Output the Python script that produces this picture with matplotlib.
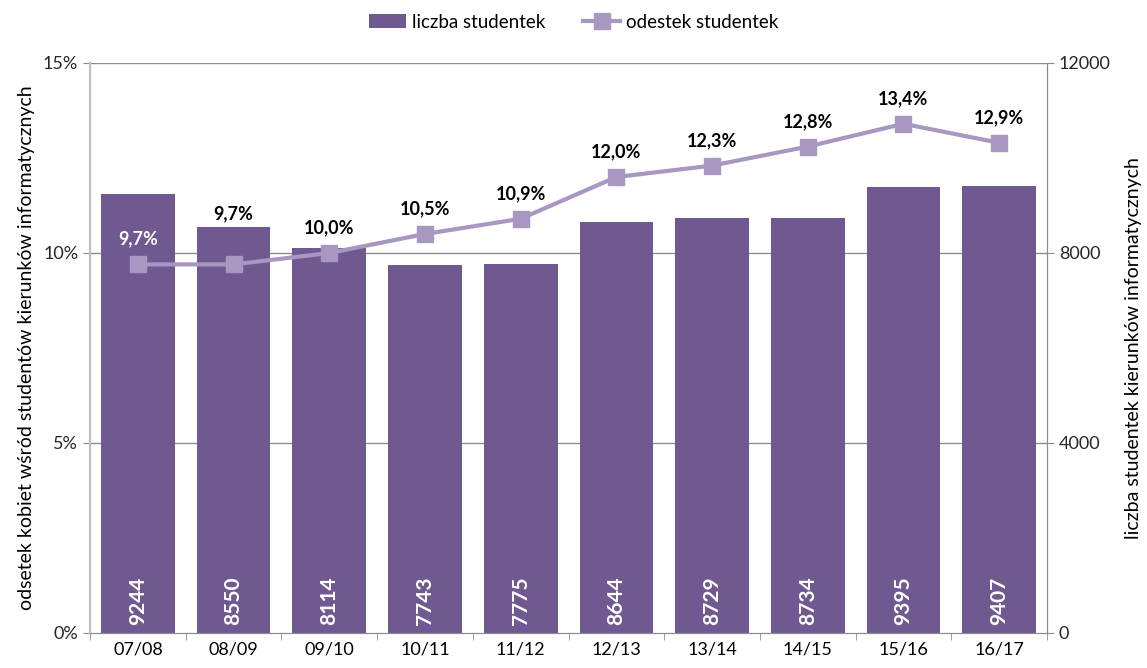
import matplotlib.pyplot as plt
import numpy as np

plt.rcParams['font.family'] = ['Lato', 'DejaVu Sans']

# dane
lata = ['07/08', '08/09', '09/10', '10/11', '11/12', '12/13', '13/14', '14/15', '15/16', '16/17']
liczba = [9244, 8550, 8114, 7743, 7775, 8644, 8729, 8734, 9395, 9407]
odsetek = [9.7, 9.7, 10.0, 10.5, 10.9, 12.0, 12.3, 12.8, 13.4, 12.9]

BAR_C = '#6F5990'
LINE_C = '#A797C1'
GRID_C = '#8C8C8C'

fig = plt.figure(figsize=(11.47, 6.68), dpi=100)
ax = fig.add_axes([0.0785, 0.0524, 0.8343, 0.8533])
ax2 = ax.twinx()

x = np.arange(len(lata))

# słupki na prawej osi
ax2.bar(x, liczba, width=0.77, color=BAR_C, zorder=2, label='liczba studentek')
ax2.set_ylim(0, 12000)
ax2.set_yticks([0, 4000, 8000, 12000])
for xi, v in zip(x, liczba):
    ax2.annotate(str(v), (xi, 0), xytext=(0, 6), textcoords='offset points',
                 ha='center', va='bottom', rotation=90, color='white',
                 fontsize=15, fontweight='bold')

# linia na lewej osi, nad słupkami
ax.set_zorder(ax2.get_zorder() + 1)
ax.patch.set_visible(False)
ax.plot(x, odsetek, color=LINE_C, lw=3, marker='s', ms=11, zorder=3,
        label='odestek studentek')
ax.set_ylim(0, 15)
ax.set_yticks([0, 5, 10, 15])
ax.set_yticklabels(['0%', '5%', '10%', '15%'])
ax.set_xlim(-0.5, len(lata) - 0.5)
for i, (xi, v) in enumerate(zip(x, odsetek)):
    col = 'white' if i == 0 else 'black'
    off = 30 if i == 1 else 12
    ax.annotate(f'{v:.1f}%'.replace('.', ','), (xi, v), xytext=(0, off),
                textcoords='offset points', ha='center', va='bottom',
                color=col, fontsize=13, fontweight='bold')

# siatka
for g in [5, 10, 15]:
    ax2.axhline(g * 800, color=GRID_C, lw=1, zorder=1)

ax.set_xticks(x)
ax.set_xticklabels(lata, fontsize=13)
ax.set_xticks(np.arange(-0.5, len(lata)), minor=True)
ax.tick_params(axis='x', which='major', length=0, pad=6)
ax.tick_params(axis='x', which='minor', length=5, color=GRID_C)
ax.tick_params(axis='y', length=5, color=GRID_C, labelsize=13, labelcolor='#262626')
ax2.tick_params(axis='y', length=5, color=GRID_C, labelsize=13, labelcolor='#262626')

for a in (ax, ax2):
    a.spines['top'].set_visible(False)
    a.spines['left'].set_color('#BFBFBF')
    a.spines['right'].set_color(GRID_C)
    a.spines['bottom'].set_color(GRID_C)
ax.spines['left'].set_linewidth(1.5)

ax.set_ylabel('odsetek kobiet wśród studentów kierunków informatycznych', fontsize=14, labelpad=6)
ax2.set_ylabel('liczba studentek kierunków informatycznych', fontsize=14, rotation=90, labelpad=10)

h1, l1 = ax2.get_legend_handles_labels()
h2, l2 = ax.get_legend_handles_labels()
fig.legend(h1 + h2, l1 + l2, loc='upper center', bbox_to_anchor=(0.5, 1.005),
           ncol=2, frameon=False, fontsize=13.5, handlelength=2.0,
           handletextpad=0.3, columnspacing=2.0)

fig.savefig('out.png', dpi=100)
